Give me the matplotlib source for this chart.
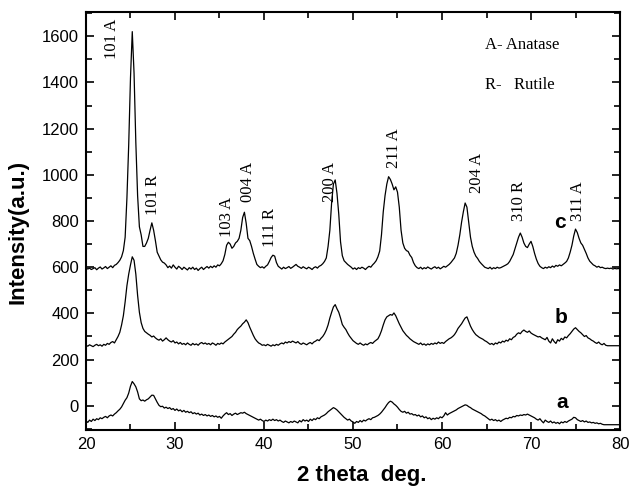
import numpy as np
import matplotlib
matplotlib.use("Agg")
import matplotlib.pyplot as plt
from matplotlib.ticker import MultipleLocator

# 2-theta grid, 0.2 deg steps from 20 to 80
two_theta = np.round(np.arange(20, 80.01, 0.2), 1)

# counts (offset curves), one row = 2 deg
curve_c = [
    598, 592, 596, 590, 594, 598, 589, 596, 601, 592,
    597, 603, 594, 600, 606, 598, 608, 612, 620, 630,
    645, 672, 730, 900, 1130, 1420, 1620, 1440, 1140, 910,
    775, 740, 690, 690, 705, 725, 760, 792, 760, 715,
    665, 648, 632, 622, 618, 610, 598, 605, 596, 610,
    600, 592, 604, 598, 590, 600, 594, 588, 598, 592,
    600, 590, 596, 586, 594, 600, 590, 597, 603, 596,
    604, 598, 606, 600, 610, 606, 615, 628, 655, 695,
    708, 700, 682, 690, 705, 712, 725, 760, 815, 838,
    790, 725, 715, 690, 660, 635, 612, 604, 598, 602,
    596, 604, 610, 625, 642, 652, 648, 620, 604, 598,
    592, 600, 594, 598, 603, 595, 600, 606, 612, 604,
    600, 595, 602, 597, 593, 600, 596, 590, 598, 602,
    596, 604, 608, 615, 625, 640, 690, 760, 880, 960,
    978, 920, 830, 710, 650, 628, 620, 612, 606, 600,
    592, 597, 590, 598, 594, 600, 596, 590, 598, 604,
    600, 610, 618, 628, 645, 670, 740, 840, 910, 960,
    992, 980, 960, 935, 948, 925, 860, 760, 705, 682,
    672, 668, 652, 642, 620, 606, 598, 594, 600, 592,
    598, 594, 601, 596, 592, 598, 602, 595, 600, 593,
    598, 604, 600, 606, 612, 620, 630, 640, 660, 695,
    740, 795, 840, 878, 860, 795, 730, 690, 665, 648,
    638, 625, 616, 608, 600, 597, 594, 600, 592, 598,
    594, 600, 596, 598, 602, 606, 610, 615, 625, 640,
    655, 680, 705, 730, 748, 730, 705, 690, 685, 700,
    712, 690, 660, 635, 616, 604, 598, 594, 600, 596,
    602, 598, 605, 600, 608, 604, 610, 606, 612, 618,
    625, 640, 665, 695, 735, 765, 750, 725, 705, 695,
    678, 660, 640, 626, 618, 610, 606, 600, 604, 598,
    600, 596, 594, 596, 594, 596, 592, 595, 593, 594,
    594,
]

curve_b = [
    262, 258, 264, 260, 256, 262, 266, 260, 264, 258,
    266, 262, 270, 266, 274, 278, 272, 286, 300, 318,
    350, 390, 450, 520, 570, 610, 645, 630, 570, 478,
    405, 360, 335, 322, 316, 310, 305, 298, 302, 294,
    288, 284, 290, 280, 286, 294, 286, 280, 276, 282,
    272, 276, 268, 274, 266, 270, 264, 272, 266, 262,
    270, 264, 268, 262, 270, 274, 268, 272, 266, 270,
    264, 272, 268, 262, 270, 266, 272, 268, 276, 282,
    288, 294, 300, 310, 318, 330, 338, 345, 355, 362,
    372, 360, 340, 322, 305, 290, 280, 272, 268, 262,
    264, 260, 266, 262, 258, 264, 260, 266, 262, 268,
    272, 268, 276, 272, 278, 274, 280, 276, 272, 278,
    270, 266, 272, 268, 264, 270, 274, 268, 276, 280,
    286, 282, 292, 300, 312, 328, 350, 380, 405, 428,
    438, 420, 405, 380, 352, 340, 330, 315, 302, 292,
    282, 276, 270, 266, 272, 266, 262, 268, 264, 270,
    274, 270, 278, 284, 290, 305, 325, 350, 372, 385,
    390, 395, 392, 402, 390, 372, 355, 340, 325, 315,
    305, 298, 290, 284, 278, 274, 270, 266, 272, 264,
    268, 262, 268, 264, 270, 266, 272, 268, 276, 270,
    274, 270, 278, 284, 290, 294, 300, 308, 320, 335,
    345, 355, 368, 380, 385, 365, 345, 330, 318, 308,
    302, 296, 292, 288, 282, 278, 272, 266, 270, 264,
    272, 268, 276, 272, 280, 276, 284, 280, 290, 286,
    296, 300, 310, 316, 312, 322, 328, 322, 318, 324,
    315, 310, 306, 302, 298, 300, 294, 290, 286, 296,
    280, 272, 290, 278, 270, 286, 280, 292, 286, 298,
    294, 304, 312, 322, 332, 338, 330, 322, 316, 308,
    300, 304, 294, 290, 284, 280, 274, 270, 276, 268,
    264, 270, 262, 260, 260, 260, 260, 260, 260, 260,
    260,
]

curve_a = [
    -65, -72, -62, -68, -58, -64, -56, -60, -52, -56,
    -50, -46, -52, -44, -40, -44, -36, -30, -22, -15,
    -5, 10, 24, 35, 55, 85, 105, 95, 82, 60,
    30, 22, 25, 20, 26, 30, 38, 46, 45, 30,
    15, 2, -4, -2, -10, -6, -12, -8, -16, -12,
    -20, -14, -22, -18, -26, -20, -28, -24, -30, -26,
    -34, -30, -36, -32, -40, -36, -42, -38, -44, -40,
    -46, -42, -48, -44, -50, -46, -54, -44, -36, -30,
    -38, -34, -42, -36, -32, -38, -34, -30, -32, -28,
    -34, -38, -42, -46, -50, -54, -58, -62, -58, -64,
    -68, -62, -66, -60, -64, -58, -64, -60, -66, -62,
    -68, -72, -66, -70, -74, -68, -72, -66, -70, -74,
    -64, -70, -60, -66, -62, -68, -58, -64, -56, -60,
    -52, -56, -48, -44, -40, -34, -26, -20, -14, -8,
    -12, -18, -26, -34, -42, -50, -56, -62, -58, -66,
    -70, -76, -68, -72, -64, -70, -62, -66, -60, -56,
    -60, -52, -50, -46, -42, -36, -28, -18, -8, 4,
    14, 20, 16, 8, 2, -6, -16, -24, -28, -24,
    -32, -28, -36, -34, -40, -38, -44, -40, -48, -44,
    -52, -48, -56, -52, -60, -54, -58, -52, -56, -48,
    -52, -44, -30, -40, -34, -30, -26, -22, -18, -12,
    -8, -4, 0, 4, 2, -4, -8, -14, -18, -22,
    -26, -30, -34, -40, -44, -50, -56, -62, -58, -64,
    -60, -66, -62, -68, -62, -58, -54, -56, -50, -52,
    -46, -48, -42, -44, -40, -42, -38, -40, -36, -40,
    -44, -48, -52, -58, -62, -56, -66, -74, -62, -68,
    -72, -66, -74, -70, -76, -72, -78, -70, -74, -68,
    -72, -66, -62, -58, -50, -52, -60, -64, -68, -64,
    -70, -66, -72, -70, -74, -72, -76, -74, -78, -76,
    -80, -82, -82, -82, -82, -82, -82, -82, -82, -82,
    -82,
]

# peak labels and where they sit (2theta, intensity)
peak_labels = ["101 A", "101 R", "103 A", "004 A", "111 R",
               "200 A", "211 A", "204 A", "310 R", "311 A"]
peak_x = [22.9, 27.5, 35.8, 38.2, 40.7, 47.4, 54.6, 63.9, 68.7, 75.3]
peak_y = [1590, 914, 819, 970, 771, 970, 1117, 1009, 888, 888]

sample_names = ["a", "b", "c"]
sample_x = [73.5, 73.4, 73.2]
sample_y = [13, 383, 793]

sans = "Liberation Sans"
serif = "Liberation Serif"

fig = plt.figure(figsize=(6.29, 4.90), dpi=100)
ax = fig.add_axes([0.1367, 0.1224, 0.8490, 0.8531])

for y in (curve_a, curve_b, curve_c):
    assert len(y) == len(two_theta)
    ax.plot(two_theta, y, color="black", lw=0.9)

ax.set_xlim(20, 80)
ax.set_ylim(-105, 1705)
ax.xaxis.set_major_locator(MultipleLocator(10))
ax.xaxis.set_minor_locator(MultipleLocator(5))
ax.yaxis.set_major_locator(MultipleLocator(200))
ax.yaxis.set_minor_locator(MultipleLocator(100))
ax.tick_params(which="both", direction="in", top=True, right=True, width=1.2)
ax.tick_params(which="major", length=6, labelsize=12, pad=5)
ax.tick_params(which="minor", length=4)
for lab in ax.get_xticklabels() + ax.get_yticklabels():
    lab.set_family(sans)
for s in ax.spines.values():
    s.set_linewidth(1.5)

ax.set_xlabel("2 theta  deg.", family=sans, fontsize=16, fontweight="bold")
ax.set_ylabel("Intensity(a.u.)", family=sans, fontsize=16, fontweight="bold")
ax.xaxis.set_label_coords(0.516, -0.083)
ax.yaxis.set_label_coords(-0.107, 0.474)

for t, x, y in zip(peak_labels, peak_x, peak_y):
    ax.text(x, y, t, rotation=90, ha="center", va="center",
            family=serif, fontsize=12)

for t, x, y in zip(sample_names, sample_x, sample_y):
    ax.text(x, y, t, ha="center", va="center", family=sans,
            fontsize=15, fontweight="bold")

ax.text(64.8, 1560, "A- Anatase", family=serif, fontsize=12, va="center")
ax.text(64.8, 1391, "R-   Rutile", family=serif, fontsize=12, va="center")

fig.savefig("out.png", dpi=100)
